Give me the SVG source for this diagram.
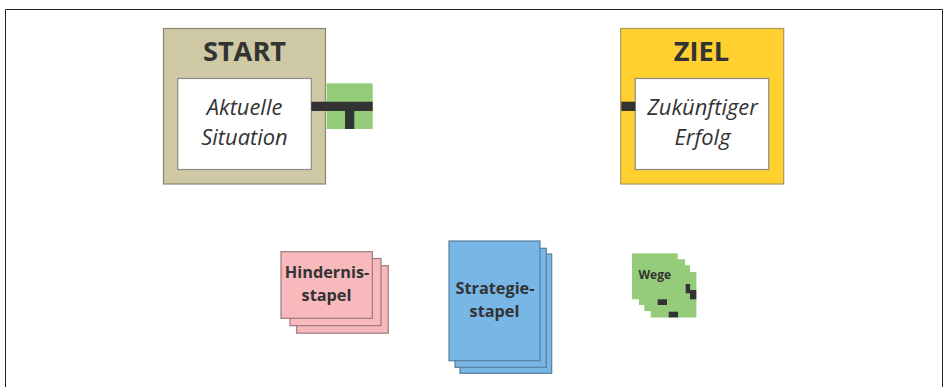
<svg xmlns="http://www.w3.org/2000/svg" width="943" height="387" viewBox="0 0 943 387">
<style>
text{font-family:"Open Sans","Noto Sans","Liberation Sans",sans-serif;fill:#333;text-anchor:middle}
.t{font-size:27.2px;font-weight:700}
.i{font-size:21.9px;font-style:italic}
.b{font-size:16.3px;font-weight:700}
.w{font-size:12px;font-weight:700;text-anchor:start}
.in{fill:#fff;stroke:#8c8c8c;stroke-width:1.2}
.k{fill:#333}
.p{fill:#f8b9bc;stroke:#9a7a80;stroke-width:1.2}
.s{fill:#78b6e5;stroke:#557f9f;stroke-width:1.2}
.g{fill:#94cc7a}
</style>
<rect width="943" height="387" fill="#fff"/>
<path d="M5.5 387V9.5H942.5V387" fill="none" stroke="#222" stroke-width="1"/>
<g id="start">
<rect x="163.5" y="28.5" width="162" height="155.500" fill="#cfc8a4" stroke="#8a8672" stroke-width="1.200"/>
<rect class="in" x="177.700" y="78.500" width="133.600" height="91"/>
<text class="t" x="244.500" y="61">START</text>
<text class="i" x="244.500" y="115">Aktuelle</text>
<text class="i" x="244.500" y="144.500">Situation</text>
</g>
<g id="ziel">
<rect x="620.700" y="28.500" width="163" height="155.500" fill="#ffd02f" stroke="#a89a5a" stroke-width="1.200"/>
<rect class="in" x="635.300" y="78.500" width="133.400" height="91"/>
<text class="t" x="701.500" y="61">ZIEL</text>
<text class="i" x="702.500" y="115">Zukünftiger</text>
<text class="i" x="702.500" y="144.500">Erfolg</text>
</g>
<g id="hindernisstapel">
<rect class="p" x="296.700" y="265.700" width="91.500" height="67.500"/>
<rect class="p" x="290" y="258.500" width="91" height="67.200"/>
<rect class="p" x="281" y="251.700" width="91.300" height="66.600"/>
<text class="b" x="327" y="278">Hindernis-</text>
<text class="b" x="326.500" y="301">stapel</text>
</g>
<g id="strategiestapel">
<rect class="s" x="460" y="254" width="91.700" height="119.300"/>
<rect class="s" x="455" y="248.300" width="91.300" height="119"/>
<rect class="s" x="449" y="241" width="91" height="119.700"/>
<text class="b" x="495" y="294">Strategie-</text>
<text class="b" x="494.500" y="317">stapel</text>
</g>
<g id="wege">
<rect class="g" x="650.700" y="272" width="45.700" height="45.500"/>
<rect class="g" x="644.300" y="265.300" width="45.700" height="45.700"/>
<rect class="g" x="639" y="259.300" width="46" height="45.700"/>
<rect class="g" x="632" y="253.300" width="45.700" height="46"/>
<text class="w" x="638.500" y="279">Wege</text>
<g class="k">
<rect x="657.700" y="299.300" width="9.300" height="5.700"/>
<rect x="668.700" y="311.700" width="9.300" height="5.700"/>
<rect x="685.700" y="284" width="4.500" height="9.300"/>
<rect x="690" y="290" width="6.300" height="9.300"/>
</g>
</g>
<g id="connectors">
<rect class="g" x="326.700" y="83.300" width="46" height="45.700"/>
<path class="k" d="M311.300 101.700H372.700V111H354.300V129H345V111H311.300Z"/>
<rect class="k" x="621.300" y="101.700" width="14" height="9.300"/>
</g>
</svg>
